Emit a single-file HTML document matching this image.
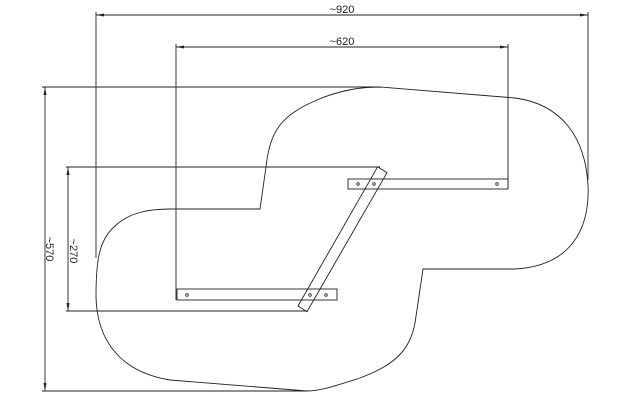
<!DOCTYPE html>
<html><head><style>html,body{margin:0;padding:0;background:#fff}svg{display:block}</style></head>
<body>
<svg width="638" height="403" viewBox="0 0 638 403" xmlns="http://www.w3.org/2000/svg" font-family="Liberation Sans, sans-serif">
<g fill="none" stroke="#222" stroke-width="0.9">
<line x1="96" y1="12" x2="96" y2="258"/>
<line x1="588" y1="12" x2="588" y2="180"/>
<line x1="176" y1="44" x2="176" y2="300"/>
<line x1="508" y1="44" x2="508" y2="189"/>
<line x1="42" y1="87" x2="380" y2="87"/>
<line x1="42" y1="391" x2="308" y2="391"/>
<line x1="66" y1="167" x2="380" y2="167"/>
<line x1="66" y1="311" x2="307" y2="311"/>
<line x1="96" y1="15" x2="588" y2="15"/>
<line x1="176" y1="47" x2="508" y2="47"/>
<line x1="45" y1="87" x2="45" y2="391"/>
<line x1="68" y1="167" x2="68" y2="311"/>
<path d="M380,87 L515,98 C560,104 585,135 588,185 C590,230 570,266 515,269 L423,269 L415,323 C410,350 395,365 360,378 C335,386 320,391 307,391 L170,380 C120,372 97,340 96,297 C96,260 99,240 115,226 C130,212 150,209 171,209 L260,209 L266,167 C270,130 282,115 317,100 C340,90 360,87 380,87 Z"/>
<rect x="348" y="179" width="160" height="10"/>
<rect x="177" y="289" width="160" height="11"/>
<polygon points="377.7,166.7 387,172.7 307,311.7 298,306"/>
</g>
<g fill="#fff" stroke="#222" stroke-width="0.8">
<circle cx="358" cy="184" r="1.3"/><circle cx="374" cy="184" r="1.3"/><circle cx="497" cy="184" r="1.3"/>
<circle cx="187" cy="295" r="1.3"/><circle cx="310" cy="295" r="1.3"/><circle cx="326" cy="295" r="1.3"/>
</g>
<g fill="#222">
<polygon points="96,15 104,13.5 104,16.5"/><polygon points="588,15 580,13.5 580,16.5"/>
<polygon points="176,47 184,45.5 184,48.5"/><polygon points="508,47 500,45.5 500,48.5"/>
<polygon points="45,87 43.5,95 46.5,95"/><polygon points="45,391 43.5,383 46.5,383"/>
<polygon points="68,167 66.5,175 69.5,175"/><polygon points="68,311 66.5,303 69.5,303"/>
</g>
<g fill="#222" font-size="11" text-anchor="middle">
<text x="342" y="13">~920</text>
<text x="342" y="45">~620</text>
<text transform="translate(46,249) rotate(90)">~570</text>
<text transform="translate(70,251) rotate(90)">~270</text>
</g>
</svg>
</body></html>
